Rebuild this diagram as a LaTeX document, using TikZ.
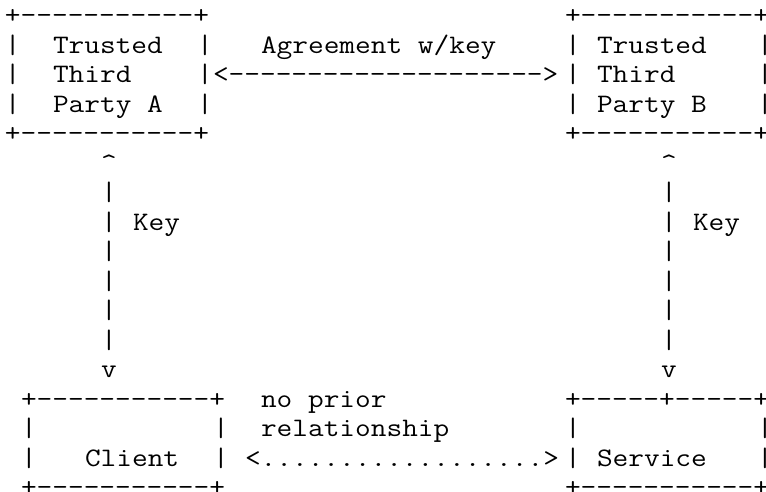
\documentclass[tikz,border=0pt]{standalone}
\usepackage{fontspec}
\newfontfamily\asciimono{Latin Modern Mono}[FakeStretch=1.143]
\tikzset{asc/.style={anchor=base west,inner sep=0pt,outer sep=0pt,text=black,
  font=\asciimono\fontsize{26.667}{29.5}\selectfont}}
\newcommand\ac[4]{\node[asc] (#1) at ({5+16*#2},{-(23.5+29.5*#3)}) {#4};}
\begin{document}
\begin{tikzpicture}[x=1pt,y=1pt]
\useasboundingbox (0,0) rectangle (766,-491);
% Trusted Third Party A
\ac{aTop}{0}{0}{+-----------+}
\ac{aL1}{0}{1}{|}\ac{aT1}{3}{1}{Trusted}\ac{aR1}{12}{1}{|}
\ac{aL2}{0}{2}{|}\ac{aT2}{3}{2}{Third}\ac{aR2}{12}{2}{|}
\ac{aL3}{0}{3}{|}\ac{aT3}{3}{3}{Party A}\ac{aR3}{12}{3}{|}
\ac{aBot}{0}{4}{+-----------+}
% Trusted Third Party B
\ac{bTop}{35}{0}{+-----------+}
\ac{bL1}{35}{1}{|}\ac{bT1}{37}{1}{Trusted}\ac{bR1}{47}{1}{|}
\ac{bL2}{35}{2}{|}\ac{bT2}{37}{2}{Third}\ac{bR2}{47}{2}{|}
\ac{bL3}{35}{3}{|}\ac{bT3}{37}{3}{Party B}\ac{bR3}{47}{3}{|}
\ac{bBot}{35}{4}{+-----------+}
% agreement
\ac{agLbl}{16}{1}{Agreement w/key}
\ac{agArrow}{13}{2}{<-------------------->}
% key links
\ac{kaUp}{6}{5}{\textasciicircum}
\ac{kbUp}{41}{5}{\textasciicircum}
\foreach \r in {6,...,11}{
  \ac{ka\r}{6}{\r}{|}
  \ac{kb\r}{41}{\r}{|}
}
\ac{kaLbl}{8}{7}{Key}
\ac{kbLbl}{43}{7}{Key}
\ac{kaDn}{6}{12}{v}
\ac{kbDn}{41}{12}{v}
% Client
\ac{cTop}{1}{13}{+-----------+}
\ac{cL1}{1}{14}{|}\ac{cR1}{13}{14}{|}
\ac{cL2}{1}{15}{|}\ac{cT}{5}{15}{Client}\ac{cR2}{13}{15}{|}
\ac{cBot}{1}{16}{+-----------+}
% Service
\ac{sTop}{35}{13}{+-----+-----+}
\ac{sL1}{35}{14}{|}\ac{sR1}{47}{14}{|}
\ac{sL2}{35}{15}{|}\ac{sT}{37}{15}{Service}\ac{sR2}{47}{15}{|}
\ac{sBot}{35}{16}{+-----------+}
% no prior relationship
\ac{npLbl1}{16}{13}{no prior}
\ac{npLbl2}{16}{14}{relationship}
\ac{npArrow}{15}{15}{<..................>}
\end{tikzpicture}
\end{document}
